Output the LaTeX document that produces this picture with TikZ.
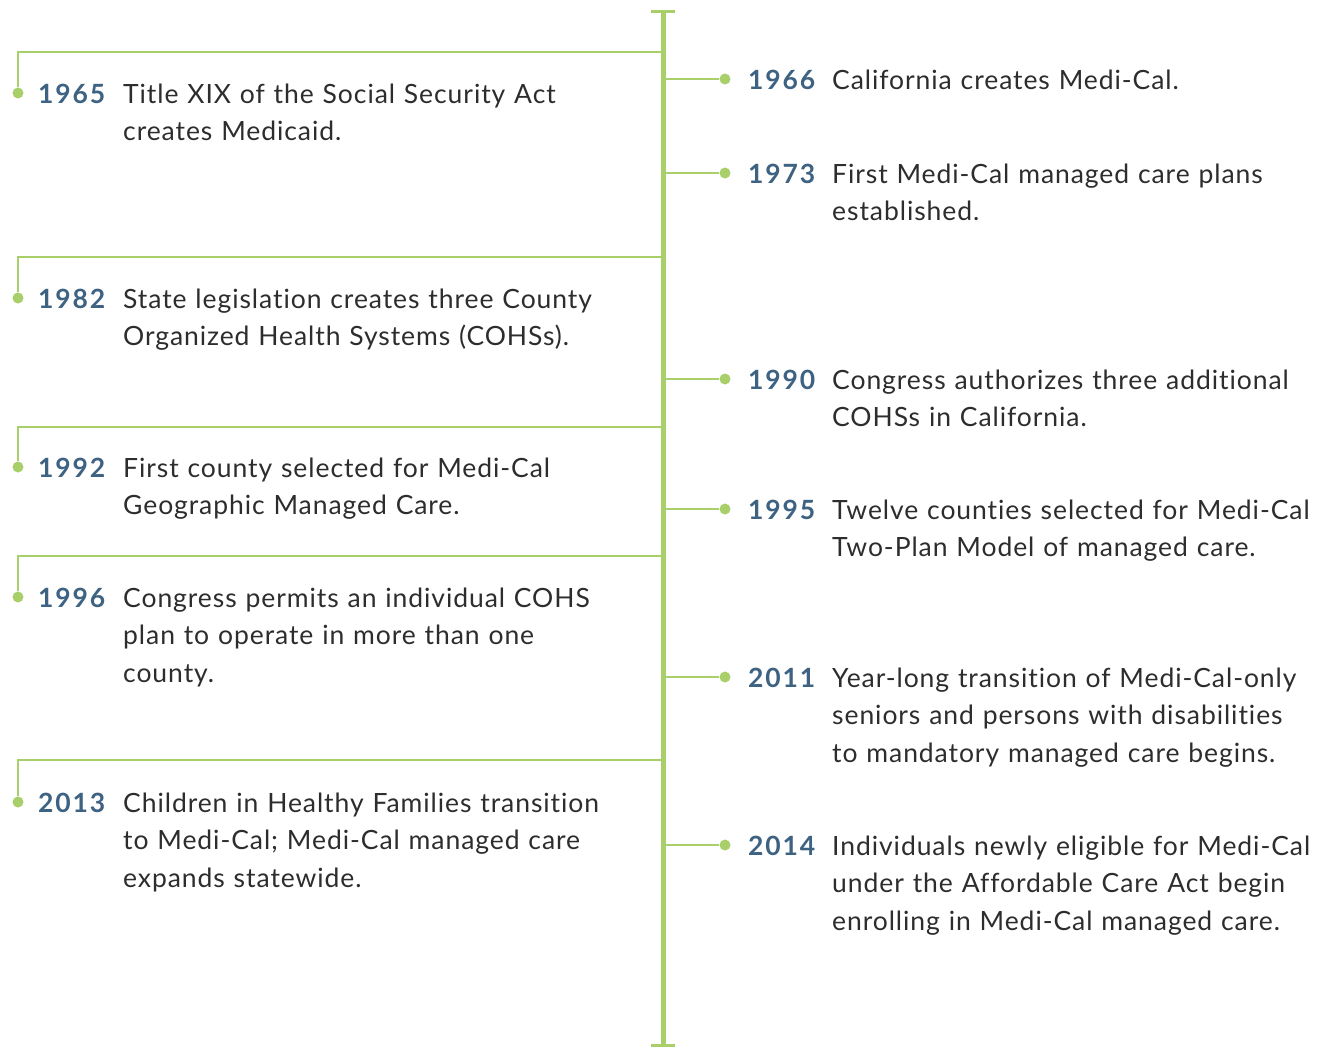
\documentclass[tikz,border=0pt]{standalone}
\usepackage{fontspec}
\setmainfont{Lato}[LetterSpace=3.5, Ligatures=NoCommon]
\newfontfamily\yearfont{Lato}[LetterSpace=7]
\usepackage{tikz}
\usetikzlibrary{positioning}
\definecolor{leaf}{RGB}{168,207,106}
\definecolor{yearblue}{RGB}{62,98,130}
\definecolor{inkgray}{RGB}{45,45,45}
\tikzset{
	x=1pt, y=-1pt, % pixel-like units, y runs downwards
	spine/.style={draw=leaf, line width=5pt}, % the main time axis
	spinecap/.style={draw=leaf, line width=3pt}, % the small bars at both ends
	branch/.style={draw=leaf, line width=2.5pt}, % lines from the axis to an event
	knob/.style={circle, fill=leaf, inner sep=0pt, minimum size=11pt}, % dot at an event
	year/.style={anchor=base west, inner sep=0pt, text=yearblue, font=\fontsize{26.5}{37.5}\yearfont\bfseries},
	event/.style={anchor=base west, inner sep=0pt, text=inkgray, text width=520pt, align=left,
		font=\fontsize{26.5}{37.5}\selectfont},
}
\begin{document}
\begin{tikzpicture}
		\useasboundingbox (0,0) rectangle (1323,1047);
		% time axis
		\coordinate (top) at (663,11);
		\coordinate (bottom) at (663,1045);
		\draw[spine] (top) -- (bottom);
		\draw[spinecap] ([xshift=-12pt]top) -- ([xshift=12pt]top);
		\draw[spinecap] ([xshift=-12pt]bottom) -- ([xshift=12pt]bottom);
		
		% left side events
		\coordinate (a1965) at (663,52);
		\node[knob] (k1965) at (18,93) {};
		\draw[branch] (a1965) -| (k1965);
		\node[year] (y1965) at (38,103) {1965};
		\node[event] (e1965) at (123,103) {Title XIX of the Social Security Act\\creates Medicaid.};
		
		\coordinate (a1982) at (663,257);
		\node[knob] (k1982) at (18,298) {};
		\draw[branch] (a1982) -| (k1982);
		\node[year] (y1982) at (38,308) {1982};
		\node[event] (e1982) at (123,308) {State legislation creates three County\\Organized Health Systems (COHSs).};
		
		\coordinate (a1992) at (663,427);
		\node[knob] (k1992) at (18,467) {};
		\draw[branch] (a1992) -| (k1992);
		\node[year] (y1992) at (38,477) {1992};
		\node[event] (e1992) at (123,477) {First county selected for Medi-Cal\\Geographic Managed Care.};
		
		\coordinate (a1996) at (663,556);
		\node[knob] (k1996) at (18,597) {};
		\draw[branch] (a1996) -| (k1996);
		\node[year] (y1996) at (38,607) {1996};
		\node[event] (e1996) at (123,607) {Congress permits an individual COHS\\plan to operate in more than one\\county.};
		
		\coordinate (a2013) at (663,760);
		\node[knob] (k2013) at (18,802) {};
		\draw[branch] (a2013) -| (k2013);
		\node[year] (y2013) at (38,812) {2013};
		\node[event] (e2013) at (123,812) {Children in Healthy Families transition\\to Medi-Cal; Medi-Cal managed care\\expands statewide.};
		
		% right side events
		\coordinate (a1966) at (663,79);
		\node[knob] (k1966) at (725,79) {};
		\draw[branch] (a1966) -- (k1966);
		\node[year] (y1966) at (748,89) {1966};
		\node[event] (e1966) at (832,89) {California creates Medi-Cal.};
		
		\coordinate (a1973) at (663,173);
		\node[knob] (k1973) at (725,173) {};
		\draw[branch] (a1973) -- (k1973);
		\node[year] (y1973) at (748,183) {1973};
		\node[event] (e1973) at (832,183) {First Medi-Cal managed care plans\\established.};
		
		\coordinate (a1990) at (663,379);
		\node[knob] (k1990) at (725,379) {};
		\draw[branch] (a1990) -- (k1990);
		\node[year] (y1990) at (748,389) {1990};
		\node[event] (e1990) at (832,389) {Congress authorizes three additional\\COHSs in California.};
		
		\coordinate (a1995) at (663,509);
		\node[knob] (k1995) at (725,509) {};
		\draw[branch] (a1995) -- (k1995);
		\node[year] (y1995) at (748,519) {1995};
		\node[event] (e1995) at (832,519) {Twelve counties selected for Medi-Cal\\Two-Plan Model of managed care.};
		
		\coordinate (a2011) at (663,677);
		\node[knob] (k2011) at (725,677) {};
		\draw[branch] (a2011) -- (k2011);
		\node[year] (y2011) at (748,687) {2011};
		\node[event] (e2011) at (832,687) {Year-long transition of Medi-Cal-only\\seniors and persons with disabilities\\to mandatory managed care begins.};
		
		\coordinate (a2014) at (663,845);
		\node[knob] (k2014) at (725,845) {};
		\draw[branch] (a2014) -- (k2014);
		\node[year] (y2014) at (748,855) {2014};
		\node[event] (e2014) at (832,855) {Individuals newly eligible for Medi-Cal\\under the Affordable Care Act begin\\enrolling in Medi-Cal managed care.};
		\end{tikzpicture}
\end{document}
